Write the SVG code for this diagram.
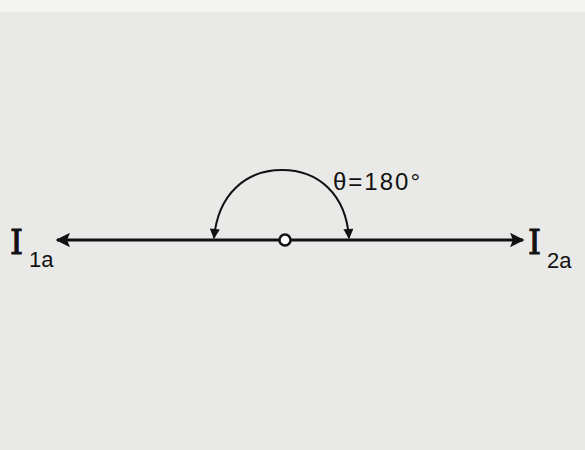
<svg xmlns="http://www.w3.org/2000/svg" width="585" height="450" viewBox="0 0 585 450">
<style>
.ln{stroke:#111;stroke-width:3;fill:none}
.arc{stroke:#111;stroke-width:2;fill:none}
.t{font-family:"DejaVu Serif",serif;fill:#111;stroke:#111;stroke-width:1}
.s{font-family:"Liberation Sans",sans-serif;fill:#111}
</style>
<defs>
<marker id="ah" viewBox="0 0 10 10" refX="9" refY="5" markerWidth="7.7" markerHeight="4.8" orient="auto" markerUnits="strokeWidth"><path d="M0,0 L10,5 L0,10 L2,5 Z" fill="#111"/></marker>
<marker id="ah2" viewBox="0 0 10 10" refX="9" refY="5" markerWidth="7" markerHeight="5" orient="auto" markerUnits="strokeWidth"><path d="M0,0 L10,5 L0,10 Z" fill="#111"/></marker>
</defs>
<rect width="585" height="450" fill="#e9e9e7"/>
<rect x="0" y="0" width="585" height="12" fill="#f4f4f2"/>
<g id="connectors">
<line class="ln" x1="279" y1="240" x2="57" y2="240" marker-end="url(#ah)"/>
<line class="ln" x1="291" y1="240" x2="523" y2="240" marker-end="url(#ah)"/>
<path class="arc" d="M282,170 C246,170 218,194 214,238" marker-end="url(#ah2)"/>
<path class="arc" d="M282,170 C318,170 346,194 349,238" marker-end="url(#ah2)"/>
</g>
<g id="origin"><circle cx="285" cy="240" r="5.5" fill="#fff" stroke="#111" stroke-width="2.5"/></g>
<g id="I1a"><text class="t" x="10" y="254" font-size="33">I</text><text class="s" x="29" y="267" font-size="22">1a</text></g>
<g id="I2a"><text class="t" x="528" y="254" font-size="33">I</text><text class="s" x="547" y="268" font-size="22">2a</text></g>
<g id="theta"><text class="s" x="333" y="190" font-size="24" letter-spacing="2">θ=180°</text></g>
</svg>
